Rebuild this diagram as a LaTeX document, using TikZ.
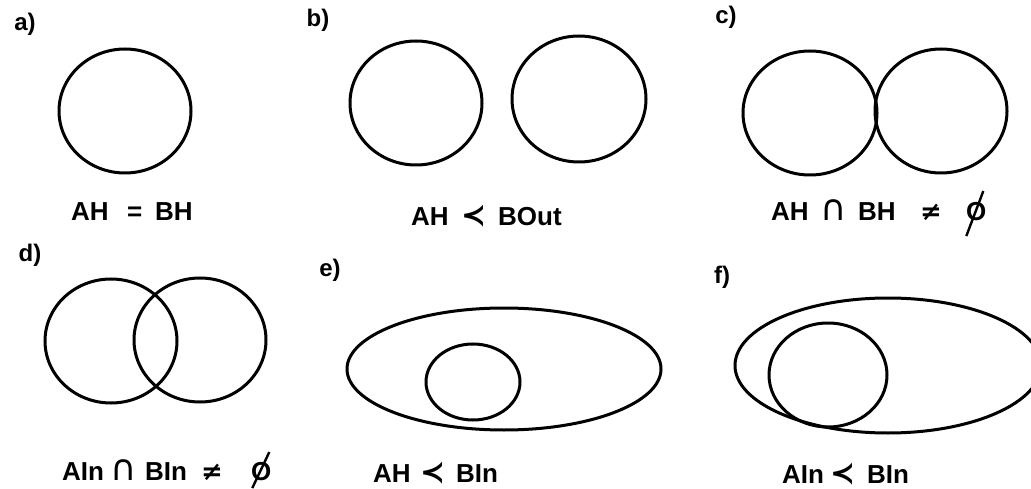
\documentclass[tikz,border=0pt]{standalone}
\usepackage{fontspec}
\setmainfont{Liberation Sans}
\newfontfamily\symfont{DejaVu Sans}
\begin{document}
\begin{tikzpicture}[x=1pt,y=-1pt,
  set/.style={line width=3pt},
  tag/.style={font=\bfseries\fontsize{24}{24}\selectfont, anchor=center, inner sep=0pt},
  rel/.style={font=\bfseries\fontsize{26}{26}\selectfont, anchor=base west, inner sep=0pt},
  lessop/.style={font=\symfont\bfseries\fontsize{30}{30}\selectfont, anchor=base west, inner sep=0pt},
  capop/.style={font=\symfont\fontsize{36}{36}\selectfont, anchor=base west, inner sep=0pt},
  neqop/.style={font=\symfont\bfseries\fontsize{26}{26}\selectfont, anchor=base west, inner sep=0pt},
  slash/.style={line width=2.4pt}]
\useasboundingbox (0,0) rectangle (1031,489);

% a) one circle
\node[tag] (ta) at (25,24) {a)};
\draw[set] (125,111) ellipse [x radius=66, y radius=62];
\node[rel] (a1) at (71,221) {AH};
\node[rel] (a2) at (127,221) {=};
\node[rel] (a3) at (155,221) {BH};

% b) two disjoint circles
\node[tag] (tb) at (318,20) {b)};
\draw[set] (416,103) ellipse [x radius=66, y radius=62];
\draw[set] (579,99) ellipse [x radius=67, y radius=63];
\node[rel] (b1) at (411,226) {AH};
\node[lessop] (b2) at (461,226) {≺};
\node[rel] (b3) at (498,226) {BOut};

% c) two touching circles
\node[tag] (tc) at (726,17) {c)};
\draw[set] (810,113) ellipse [x radius=67, y radius=62];
\draw[set] (941,111) ellipse [x radius=66, y radius=62];
\node[rel] (c1) at (771,221) {AH};
\node[capop] (c2) at (820,221) {∩};
\node[rel] (c3) at (858,221) {BH};
\node[neqop] (c4) at (920,221) {≠};
\node[rel] (c5) at (966,221) {O};
\draw[slash] ([xshift=7pt,yshift=21pt]c5.center) -- ([xshift=-10pt,yshift=-24pt]c5.center);

% d) two overlapping circles
\node[tag] (td) at (30,255) {d)};
\draw[set] (111,341) ellipse [x radius=66, y radius=62];
\draw[set] (200,340) ellipse [x radius=66, y radius=62];
\node[rel] (d1) at (62,480) {AIn};
\node[capop] (d2) at (110,480) {∩};
\node[rel] (d3) at (145,480) {BIn};
\node[neqop] (d4) at (201,480) {≠};
\node[rel] (d5) at (251,480) {O};
\draw[slash] ([xshift=8pt,yshift=19pt]d5.center) -- ([xshift=-9pt,yshift=-17pt]d5.center);

% e) circle strictly inside an ellipse
\node[tag] (te) at (330,270) {e)};
\draw[set] (504,369) ellipse [x radius=157, y radius=61];
\draw[set] (473,382) ellipse [x radius=47, y radius=38];
\node[rel] (e1) at (373,482) {AH};
\node[lessop] (e2) at (420,482) {≺};
\node[rel] (e3) at (456,482) {BIn};

% f) circle inside an ellipse, touching its border
\node[tag] (tf) at (722,277) {f)};
\draw[set] (888,365.5) ellipse [x radius=153, y radius=67.5];
\draw[set] (828,375) ellipse [x radius=59, y radius=52];
\node[rel] (f1) at (782,483) {AIn};
\node[lessop] (f2) at (830,483) {≺};
\node[rel] (f3) at (867,483) {BIn};
\end{tikzpicture}
\end{document}
